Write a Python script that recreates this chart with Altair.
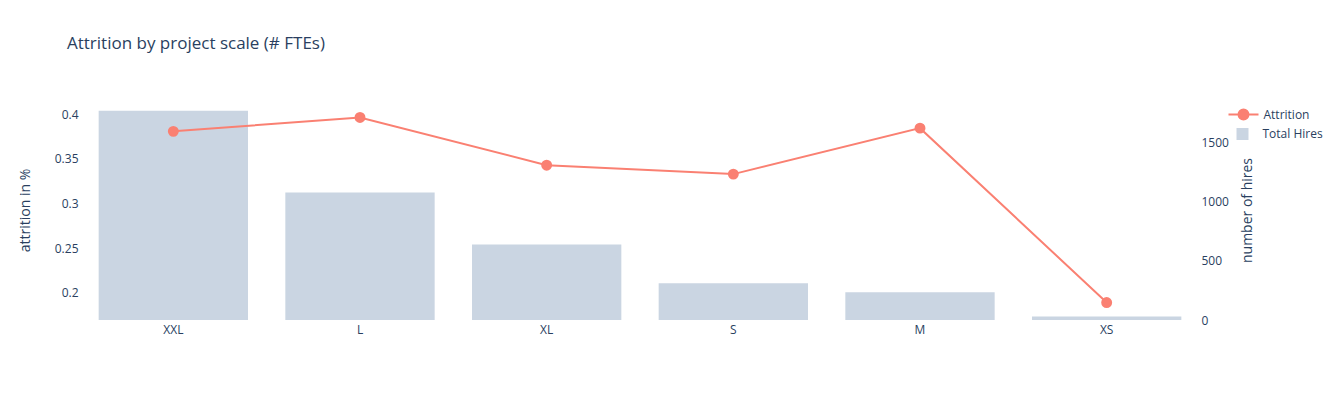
import altair as alt
import pandas as pd

categories = ["XXL", "L", "XL", "S", "M", "XS"]
attrition = [0.381, 0.3966, 0.343, 0.333, 0.3846, 0.1888]
total_hires = [1770, 1080, 639, 311, 235, 29]

df = pd.DataFrame({"scale": categories, "attrition": attrition, "hires": total_hires})

FONT = "Open Sans"
TXT = "#2a3f5f"
LINE = "#FA8072"
BAR = "#CAD5E2"
LEG_PATH = "M-1,0H1M-0.333,0A0.333,0.333,0,1,0,0.333,0A0.333,0.333,0,1,0,-0.333,0Z"

x = alt.X(
    "scale:N",
    sort=categories,
    scale=alt.Scale(paddingInner=0.2, paddingOuter=0.1),
    axis=alt.Axis(title=None, labelAngle=0, domain=False, ticks=False, grid=False,
                  labelPadding=4, labelFontSize=12, labelColor=TXT, labelFont=FONT),
)

bars = alt.Chart(df).transform_calculate(s1="'Total Hires'").mark_bar(color=BAR).encode(
    x=x,
    y=alt.Y("hires:Q",
            scale=alt.Scale(domain=[0, 1862], nice=False, zero=True),
            axis=alt.Axis(orient="right", values=[0, 500, 1000, 1500], format="d",
                          title="number of hires",
                          grid=False, domain=False, ticks=False, labelPadding=1,
                          labelFontSize=12, labelColor=TXT, labelFont=FONT,
                          titleAngle=270, titleBaseline="top", titlePadding=12,
                          titleFontSize=14, titleFontWeight="normal", titleColor=TXT, titleFont=FONT)),
    fill=alt.Fill("s1:N",
                  scale=alt.Scale(domain=["Total Hires"], range=[BAR]),
                  legend=alt.Legend(title=None, orient="none", legendX=1156.5, legendY=28,
                                    symbolType="square", symbolSize=144, symbolStrokeWidth=0,
                                    labelOffset=14, labelFontSize=12, labelColor=TXT,
                                    labelFont=FONT, padding=0)),
)

y_line = alt.Y("attrition:Q",
               scale=alt.Scale(domain=[0.1692, 0.4162], nice=False, zero=False),
               axis=alt.Axis(orient="left", values=[0.2, 0.25, 0.3, 0.35, 0.4], format="~g",
                             title="attrition in %", grid=False, domain=False, ticks=False,
                             labelPadding=2, labelFontSize=12, labelColor=TXT, labelFont=FONT,
                             titlePadding=22, titleFontSize=14, titleFontWeight="normal",
                             titleColor=TXT, titleFont=FONT))

stroke = alt.Stroke("s2:N",
                    scale=alt.Scale(domain=["Attrition"], range=[LINE]),
                    legend=alt.Legend(title=None, orient="none", legendX=1147.5, legendY=-1.5,
                                      symbolType=LEG_PATH, symbolSize=900,
                                      symbolFillColor=LINE, symbolStrokeWidth=2,
                                      labelOffset=4, labelFontSize=12, labelColor=TXT,
                                      labelFont=FONT, padding=0))

base = alt.Chart(df).transform_calculate(s2="'Attrition'")
line = base.mark_line(strokeWidth=2).encode(x=x, y=y_line, stroke=stroke)
points = base.mark_circle(size=80, opacity=1, fill=LINE).encode(x=x, y=y_line, stroke=stroke)

lp = alt.layer(line, points)

chart = alt.layer(bars, lp).resolve_scale(y="independent").properties(
    width=1120,
    height=220,
    autosize=alt.AutoSizeParams(type="none"),
    padding={"left": 72, "top": 92, "right": 131, "bottom": 72},
    title=alt.TitleParams(text="Attrition by project scale (# FTEs)", anchor="start", frame="group",
                          dx=-13, offset=46, fontSize=17, font=FONT, color=TXT, fontWeight="normal"),
).configure_view(stroke=None)

chart.save("out.html", embed_options={"renderer": "svg", "actions": False})
